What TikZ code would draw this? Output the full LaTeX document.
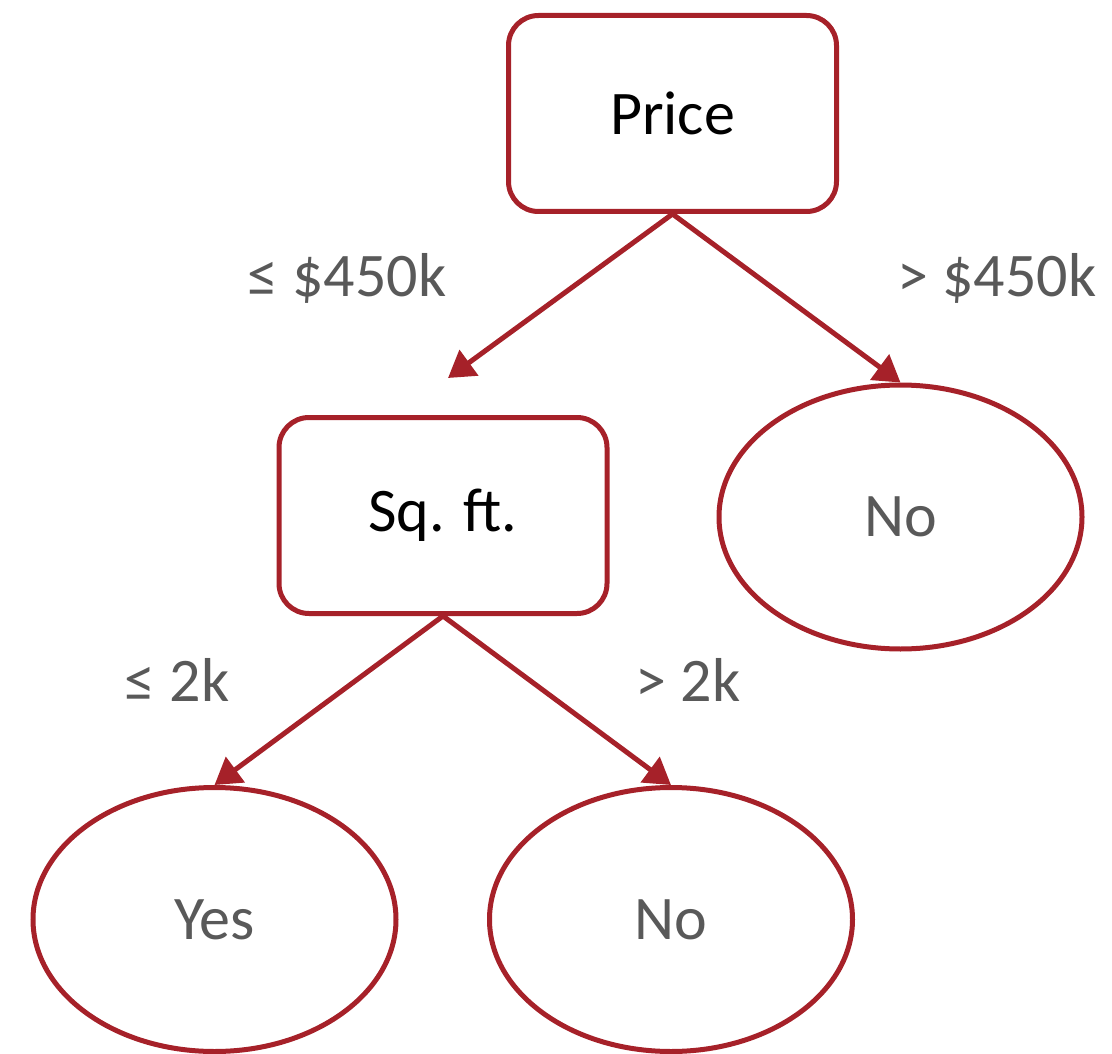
\documentclass[tikz,border=0pt]{standalone}
\usepackage{fontspec}
\setmainfont{Carlito}
\usetikzlibrary{shapes.geometric,arrows.meta}
\definecolor{dred}{RGB}{166,33,41}
\definecolor{tgray}{RGB}{89,89,89}
\begin{document}
\begin{tikzpicture}[x=1pt,y=-1pt,
  decision/.style={draw=dred,line width=5pt,rounded corners=30pt,minimum width=328pt,minimum height=196pt,inner sep=0pt,font=\fontsize{62}{70}\selectfont,text=black},
  leaf/.style={draw=dred,line width=5pt,ellipse,minimum width=363pt,minimum height=264pt,inner sep=0pt,font=\fontsize{62}{70}\selectfont,text=tgray},
  edge/.style={draw=dred,line width=5pt,-{Triangle[length=26pt,width=31pt]}},
  lbl/.style={font=\fontsize{62}{70}\selectfont,text=tgray,inner sep=0pt}]
\useasboundingbox (0,0) rectangle (1112,1054);
\node[decision] (price) at (672.5,113.5) {Price};
\node[decision] (sqft) at (443,515.5) {Sq. ft.};
\node[leaf] (no1) at (900.5,517) {No};
\node[leaf] (yes) at (214.5,919.5) {Yes};
\node[leaf] (no2) at (671,919.5) {No};
\coordinate (t1) at (448,378);
\draw[edge] (price.south) -- (t1);
\draw[edge] (price.south) -- (no1.north);
\draw[edge] (sqft.south) -- (yes.north);
\draw[edge] (sqft.south) -- (no2.north);
\node[lbl] (l1) at (347,278) {≤ \$450k};
\node[lbl] (l2) at (997,278) {> \$450k};
\node[lbl] (l3) at (177,680) {≤ 2k};
\node[lbl] (l4) at (688,680) {> 2k};
\end{tikzpicture}
\end{document}
